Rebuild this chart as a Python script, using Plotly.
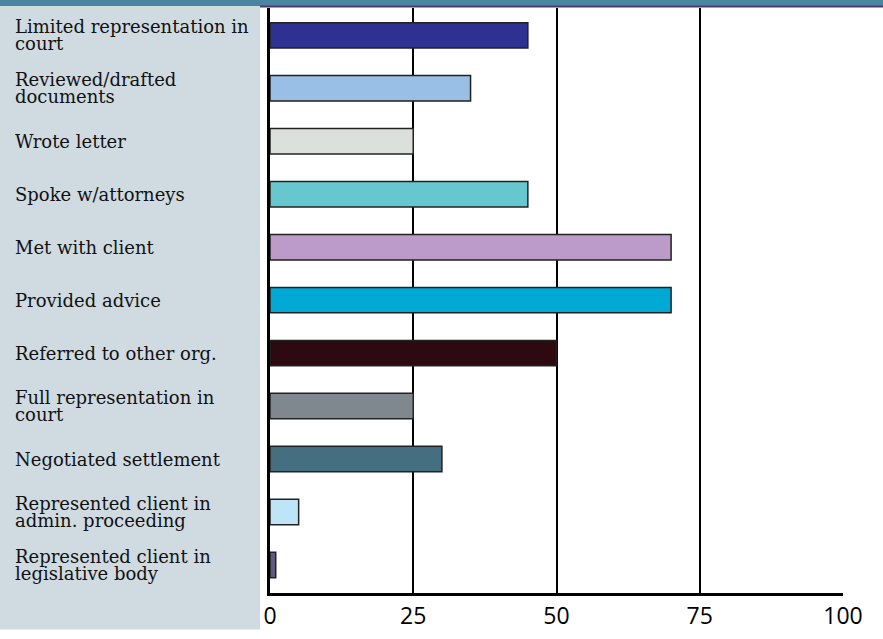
import plotly.graph_objects as go

categories = [
    "Limited representation in\ncourt",
    "Reviewed/drafted\ndocuments",
    "Wrote letter",
    "Spoke w/attorneys",
    "Met with client",
    "Provided advice",
    "Referred to other org.",
    "Full representation in\ncourt",
    "Negotiated settlement",
    "Represented client in\nadmin. proceeding",
    "Represented client in\nlegislative body",
]
values = [45, 35, 25, 45, 70, 70, 50, 25, 30, 5, 1]
colors = ["#2E3192", "#99BFE6", "#DCE0DD", "#66C7CF", "#BC9BC9", "#00A8D4",
          "#2C0A0F", "#80888F", "#456F80", "#BDE5F7", "#5E5A82"]
x_ticks = [0, 25, 50, 75, 100]

W, H = 883, 639
L, R, T, B = 270, 40, 8, 37
pw, ph = W - L - R, H - T - B


def px_x(p):
    return (p - L) / pw


def px_y(p):
    return (H - B - p) / ph


ids = list(range(len(categories)))

fig = go.Figure()
fig.add_trace(go.Bar(
    x=values, y=ids, orientation="h",
    marker=dict(color=colors, line=dict(color="#222222", width=1.5)),
    width=0.48, hoverinfo="x",
))

shapes = [
    dict(type="rect", xref="paper", yref="paper", x0=px_x(0), x1=px_x(260),
         y0=px_y(H), y1=px_y(6), fillcolor="#CFDBE1", line=dict(width=0), layer="below"),
    dict(type="rect", xref="paper", yref="paper", x0=px_x(0), x1=px_x(W),
         y0=px_y(6), y1=px_y(0), fillcolor="#4A86A2", line=dict(width=0), layer="below"),
    dict(type="line", xref="paper", yref="paper", x0=px_x(260), x1=px_x(W),
         y0=px_y(6.5), y1=px_y(6.5), line=dict(color="#4B3A6E", width=2)),
]

annotations = []
for i, lab in enumerate(categories):
    lines = lab.split("\n")
    n = len(lines)
    for k, ln in enumerate(lines):
        annotations.append(dict(
            x=px_x(13), xref="paper", y=i, yref="y", text=ln, showarrow=False,
            xanchor="left", yanchor="middle",
            yshift=((n - 1) / 2 - k) * 17,
            font=dict(family="DejaVu Serif", size=18, color="#111111"),
        ))

fig.update_layout(
    width=W, height=H,
    margin=dict(l=L, r=R, t=T, b=B),
    paper_bgcolor="white", plot_bgcolor="white",
    showlegend=False,
    shapes=shapes, annotations=annotations,
    bargap=0.5,
)
fig.update_xaxes(
    range=[0, 100], tickvals=x_ticks, ticktext=[str(v) for v in x_ticks],
    showgrid=True, gridcolor="#000000", gridwidth=2, zeroline=False,
    showline=True, linecolor="#000000", linewidth=3,
    ticks="", tickfont=dict(family="Open Sans", size=23, color="#000000"),
)
fig.update_yaxes(
    range=[10.53, -0.517], showticklabels=False, showgrid=False, zeroline=False,
    showline=True, linecolor="#000000", linewidth=3, ticks="",
)

fig.write_html(
    "out.html",
    config={"displayModeBar": False},
    post_script="document.body.style.margin='0';document.body.style.overflow='hidden';",
)
